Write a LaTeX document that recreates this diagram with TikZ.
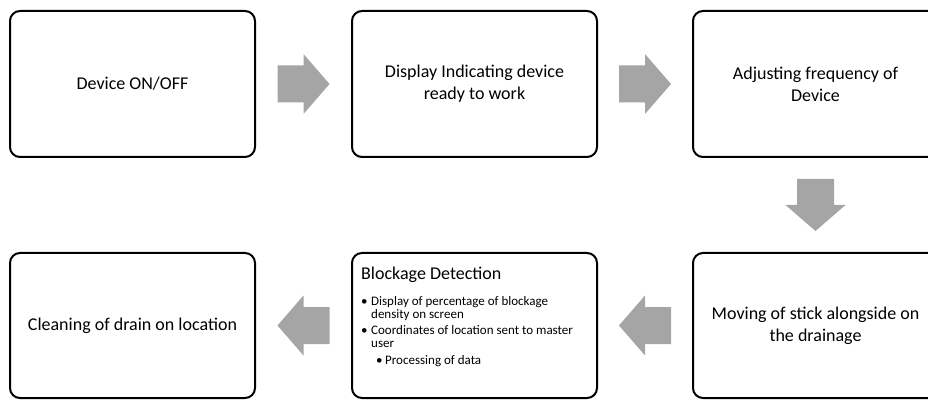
\documentclass[tikz,border=0pt]{standalone}
\usepackage{fontspec}
\setmainfont{Carlito}
\usetikzlibrary{calc}
\definecolor{arrgray}{HTML}{A5A5A5}
\tikzset{
  stepbox/.style={draw=black, line width=2pt, rounded corners=10pt,
    minimum width=245pt, minimum height=146pt, inner sep=0pt,
    align=center, font=\fontsize{18}{22}\selectfont},
  blockarrow/.pic={\fill[arrgray] (-26,-18.5) -- (0,-18.5) -- (0,-30) -- (26,0)
    -- (0,30) -- (0,18.5) -- (-26,18.5) -- cycle;}
}
\begin{document}
\begin{tikzpicture}[x=1pt,y=1pt]
\useasboundingbox (0,0) rectangle (928,399);
\clip (0,0) rectangle (928,399);
\node[stepbox] (n1) at (132.5,315) {Device ON/OFF};
\node[stepbox] (n2) at (474.5,315) {Display Indicating device\\ready to work};
\node[stepbox] (n3) at (815.5,315) {Adjusting frequency of\\Device};
\node[stepbox, minimum height=145pt] (n4) at (815.5,73.5) {Moving of stick alongside on\\the drainage};
\node[stepbox, minimum height=145pt] (n5) at (474.5,73.5) {};
\node[stepbox, minimum height=145pt] (n6) at (132.5,73.5) {Cleaning of drain on location};
\node[anchor=base west, inner sep=0pt, font=\fontsize{18}{22}\selectfont] (bt)
  at ([shift={(10,-27)}]n5.north west) {Blockage Detection};
\node[anchor=base west, inner sep=0pt] (bl)
  at ([shift={(0,-26)}]bt.base west) {\fontsize{13}{13}\selectfont
  \begin{tabular}[t]{@{}l@{\hspace{3.5pt}}l@{}}
  • & Display of percentage of blockage\\
    & density on screen\\[3.5pt]
  • & Coordinates of location sent to master\\
    & user\\[3.5pt]
    & \hspace{5pt}•\hspace{2.5pt}Processing of data
  \end{tabular}};
\pic at ($(n1.east)!0.5!(n2.west)$) {blockarrow};
\pic at ($(n2.east)!0.5!(n3.west)$) {blockarrow};
\pic[rotate=-90] at ($(n3.south)!0.5!(n4.north)$) {blockarrow};
\pic[rotate=180] at ($(n4.west)!0.5!(n5.east)$) {blockarrow};
\pic[rotate=180] at ($(n5.west)!0.5!(n6.east)$) {blockarrow};
\end{tikzpicture}
\end{document}
